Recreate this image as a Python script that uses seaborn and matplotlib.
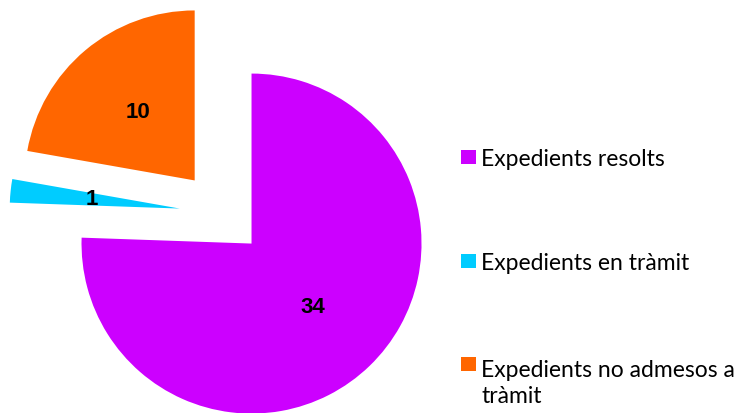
import matplotlib
matplotlib.use("Agg")
import matplotlib.pyplot as plt
from matplotlib.patches import Rectangle
import seaborn as sns

categories = ["Expedients resolts", "Expedients en tràmit", "Expedients no admesos a\ntràmit"]
values = [34, 1, 10]
colors = ["#CC00FF", "#00CCFF", "#FF6600"]

sns.set_style("white")
plt.rcParams["font.family"] = ["Lato", "DejaVu Sans"]

W, H = 750, 413
fig = plt.figure(figsize=(W / 100, H / 100), dpi=100)
cx, cy, r = 222, 413 - 213, 170
lim = 1.3
side = 2 * lim * r
ax = fig.add_axes([(cx - side / 2) / W, (cy - side / 2) / H, side / W, side / H])

total = sum(values)
wedges, texts, autotexts = ax.pie(
    values,
    colors=colors,
    startangle=90,
    counterclock=False,
    explode=[0.25] * len(values),
    radius=1,
    autopct=lambda p: f"{round(p * total / 100)}",
    pctdistance=0.52,
    textprops=dict(fontsize=16, fontweight="bold", family=["Liberation Sans", "DejaVu Sans"], color="black"),
    wedgeprops=dict(linewidth=0),
)
ax.set_xlim(-lim, lim)
ax.set_ylim(-lim, lim)
ax.set_axis_off()

# legend (square markers + labels), placed in pixel coordinates of the figure
fs = 16.5
line_px = 30
baselines = [166, 270, 373]
for label, col, yb in zip(categories, colors, baselines):
    fig.add_artist(Rectangle((461 / W, 1 - (yb - 2) / H), 15 / W, 14 / H,
                             transform=fig.transFigure, facecolor=col, edgecolor="none"))
    n_extra = label.count("\n")
    fig.text(481 / W, 1 - (yb + n_extra * line_px) / H, label, fontsize=fs,
             va="baseline", ha="left", color="black",
             linespacing=line_px / (fs * 100 / 72), family=["Lato", "DejaVu Sans"])

fig.savefig("out.png", dpi=100)
